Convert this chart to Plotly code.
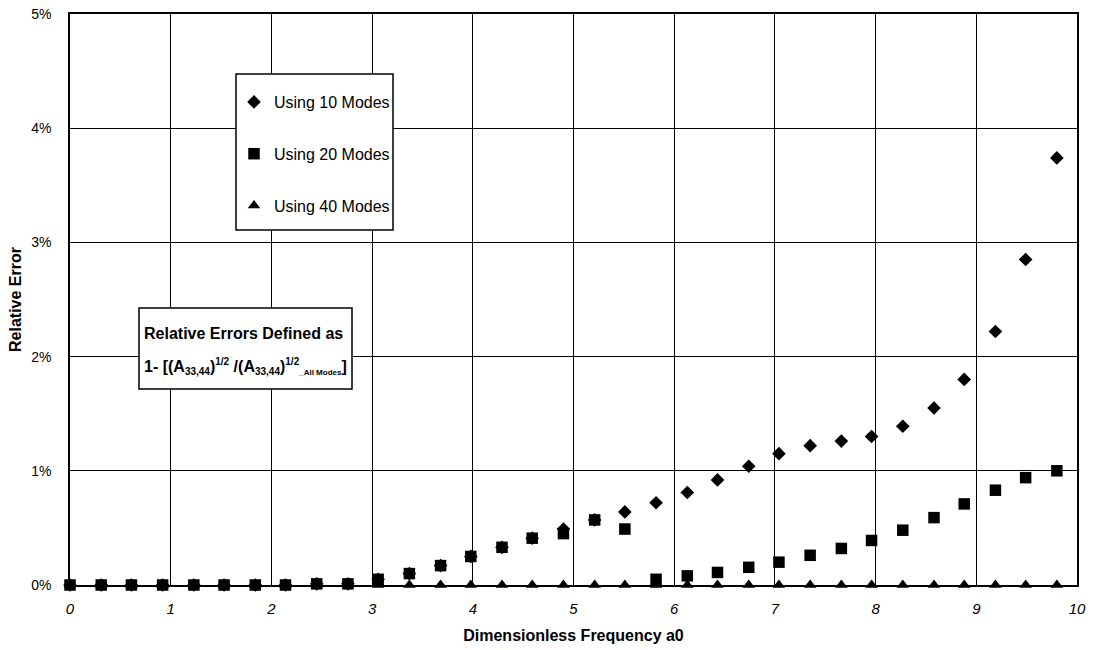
import plotly.graph_objects as go

# Dimensionless frequency a0 (33 points)
a0 = [0.00, 0.31, 0.61, 0.92, 1.23, 1.53, 1.84, 2.14, 2.45, 2.76, 3.06,
      3.37, 3.68, 3.98, 4.29, 4.59, 4.90, 5.21, 5.51, 5.82, 6.13, 6.43,
      6.74, 7.04, 7.35, 7.66, 7.96, 8.27, 8.58, 8.88, 9.19, 9.49, 9.80]

# Relative errors in percent
err_10 = [0.00, 0.00, 0.00, 0.00, 0.00, 0.00, 0.00, 0.00, 0.01, 0.01, 0.05,
          0.10, 0.17, 0.25, 0.33, 0.41, 0.49, 0.57, 0.64, 0.72, 0.81, 0.92,
          1.04, 1.15, 1.22, 1.26, 1.30, 1.39, 1.55, 1.80, 2.22, 2.85, 3.74]
err_20 = [0.00, 0.00, 0.00, 0.00, 0.00, 0.00, 0.00, 0.00, 0.01, 0.01, 0.05,
          0.10, 0.17, 0.25, 0.33, 0.41, 0.45, 0.57, 0.49, 0.05, 0.08, 0.11,
          0.155, 0.20, 0.26, 0.32, 0.39, 0.48, 0.59, 0.71, 0.83, 0.94, 1.00]
err_40 = [0.0] * 33

series_names = ["Using 10 Modes", "Using 20 Modes", "Using 40 Modes"]
series_values = [err_10, err_20, err_40]
series_symbols = ["diamond", "square", "triangle-up"]
series_sizes = [10.5, 11.5, 11]

x_ticks = list(range(0, 11))
y_ticks = [0, 1, 2, 3, 4, 5]

FONT = "Liberation Sans, Arial, sans-serif"

# plot area in pixels (for placing boxes in paper coordinates)
L, R, T, B = 70, 1077, 14, 585
W, H = R - L, B - T


def px(xp):
    return (xp - L) / W


def py(yp):
    return (B - yp) / H


fig = go.Figure()
for i in range(3):
    fig.add_trace(go.Scatter(
        x=a0, y=series_values[i], mode="markers", name=series_names[i],
        legendgroup=f"g{i}",
        marker=dict(symbol=series_symbols[i], size=series_sizes[i],
                    color="black", line=dict(width=0)),
        cliponaxis=False,
    ))

fig.update_layout(
    width=1093, height=650,
    margin=dict(l=L, r=1093 - R, t=T, b=650 - B, autoexpand=False),
    paper_bgcolor="white", plot_bgcolor="white",
    font=dict(family=FONT, color="black", size=14),
    showlegend=True,
    legend=dict(
        x=px(234), y=py(85), xanchor="left", yanchor="top",
        bgcolor="rgba(0,0,0,0)", borderwidth=0,
        font=dict(size=16, family=FONT),
        tracegroupgap=28, itemwidth=30,
    ),
    xaxis=dict(
        range=[0, 10], tickvals=x_ticks, ticktext=[str(v) for v in x_ticks],
        showgrid=True, gridcolor="black", gridwidth=1,
        showline=True, linecolor="black", linewidth=1.5, mirror=True,
        zeroline=False, ticks="", ticklabelstandoff=9, automargin=False,
        tickfont=dict(size=15, style="italic"),
        title=dict(text="<b>Dimensionless Frequency a0</b>",
                   font=dict(size=16), standoff=14),
    ),
    yaxis=dict(
        range=[0, 5], tickvals=y_ticks, ticktext=[f"{v}%" for v in y_ticks],
        showgrid=True, gridcolor="black", gridwidth=1,
        showline=True, linecolor="black", linewidth=1.5, mirror=True,
        zeroline=False, ticks="", ticklabelstandoff=14, automargin=False,
        tickfont=dict(size=14),
        title=dict(text="<b>Relative Error</b>", font=dict(size=16), standoff=6),
    ),
)

# legend frame
fig.add_shape(type="rect", xref="paper", yref="paper",
              x0=px(236), x1=px(393), y0=py(230), y1=py(74),
              line=dict(color="black", width=1.5), fillcolor="white",
              layer="above")

# definition box
fig.add_shape(type="rect", xref="paper", yref="paper",
              x0=px(139), x1=px(352), y0=py(389), y1=py(308),
              line=dict(color="black", width=1.5), fillcolor="white",
              layer="above")
fig.add_annotation(
    xref="paper", yref="paper", x=px(142), y=py(333),
    xanchor="left", yanchor="middle", align="left", showarrow=False,
    text="<b>Relative Errors Defined as</b>",
    font=dict(size=16, family=FONT, color="black"),
)
fig.add_annotation(
    xref="paper", yref="paper", x=px(142), y=py(366),
    xanchor="left", yanchor="middle", align="left", showarrow=False,
    text=("<b>1- [(A<sub><span style='font-size:10px'>33,44</span></sub>)"
          "<sup><span style='font-size:10px'>1/2</span></sup> /"
          "(A<sub><span style='font-size:10px'>33,44</span></sub>)"
          "<sup><span style='font-size:10px'>1/2</span></sup>"
          "<sub><span style='font-size:8px'>_All Modes</span></sub>]</b>"),
    font=dict(size=16, family=FONT, color="black"),
)

fig.write_html("out.html")
